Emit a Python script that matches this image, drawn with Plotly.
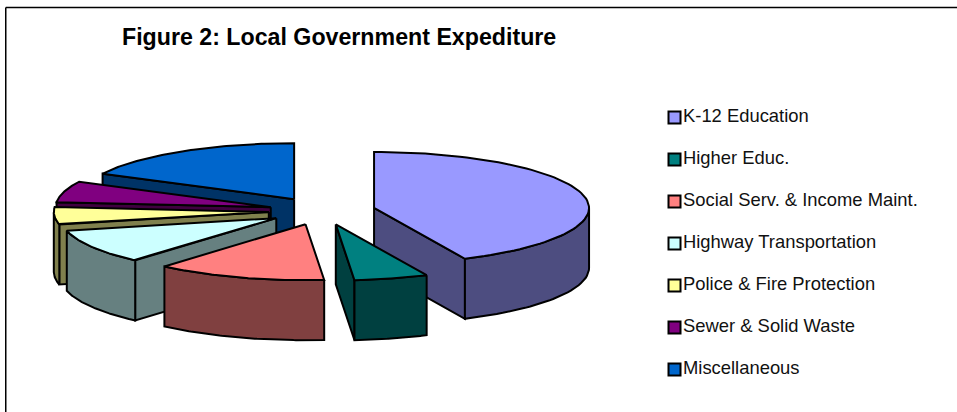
import numpy as np
import plotly.graph_objects as go

# Share of spending per category, in percent
categories = ["K-12 Education", "Higher Educ.", "Social Serv. & Income Maint.",
              "Highway Transportation", "Police & Fire Protection",
              "Sewer & Solid Waste", "Miscellaneous"]
shares = [43.06, 5.56, 12.78, 10.0, 5.0, 6.11, 17.5]
top_colors = ["#9999FF", "#008080", "#FF8080", "#CCFFFF", "#FFFF99", "#800080", "#0066CC"]
side_colors = ["#4D4D80", "#004040", "#804040", "#668080", "#80804D", "#400040", "#003366"]
title = "Figure 2: Local Government Expediture"

# Pie geometry in unit-radius coordinates; the axis scales apply the tilt
EXPLODE = 0.248
THICKNESS = 60 / 56
W, H = 957, 412
CX, CY, RX, RY = 322, 211, 215, 56

edges = 2 * np.pi * np.concatenate([[0], np.cumsum(shares)]) / sum(shares)
fig = go.Figure()


def face(x, y, color):
    fig.add_trace(go.Scatter(x=np.append(x, x[0]), y=np.append(y, y[0]), mode="lines",
                             fill="toself", fillcolor=color, hoverinfo="skip",
                             showlegend=False, line=dict(color="black", width=2)))


def slice_faces(i):
    a0, a1 = edges[i], edges[i + 1]
    mid = (a0 + a1) / 2
    ax, ay = EXPLODE * np.sin(mid), EXPLODE * np.cos(mid)
    t = np.linspace(a0, a1, 80)
    rim_x, rim_y = ax + np.sin(t), ay + np.cos(t)

    # Radial cut faces that turn toward the viewer
    for a, visible in ((a0, np.sin(a0) < -1e-6), (a1, np.sin(a1) > 1e-6)):
        if visible:
            ex, ey = ax + np.sin(a), ay + np.cos(a)
            face(np.array([ax, ex, ex, ax]),
                 np.array([ay, ey, ey - THICKNESS, ay - THICKNESS]), side_colors[i])

    # Outer wall along the front half of the rim
    front = np.cos(t) <= 0
    if front.any():
        fx, fy = rim_x[front], rim_y[front]
        face(np.concatenate([fx, fx[::-1]]),
             np.concatenate([fy, fy[::-1] - THICKNESS]), side_colors[i])

    # Top face
    face(np.concatenate([[ax], rim_x]), np.concatenate([[ay], rim_y]), top_colors[i])


# Back-to-front paint order
for i in (6, 0, 5, 4, 3, 2, 1):
    slice_faces(i)

# Key: one square and label per category
fig.add_trace(go.Scatter(x=[0] * len(categories), y=categories, mode="markers+text",
                         xaxis="x2", yaxis="y2", text=categories,
                         textposition="middle right", cliponaxis=False,
                         textfont=dict(family="Liberation Sans", size=18.4, color="#111111"),
                         marker=dict(symbol="square", size=12, color=top_colors,
                                     line=dict(color="black", width=2)),
                         hoverinfo="skip", showlegend=False))

# Frame: only the top and left edges fall inside the page
frame_x, frame_y = 5.75 / W, 1 - 7.5 / H
frame = dict(type="line", xref="paper", yref="paper", layer="below",
             line=dict(color="black", width=1.5))

fig.update_layout(
    width=W, height=H, autosize=False,
    margin=dict(l=0, r=0, t=0, b=0),
    paper_bgcolor="white", plot_bgcolor="rgba(0,0,0,0)",
    showlegend=False,
    title=dict(text="<b>" + title + "</b>", x=122 / W, xanchor="left", y=1 - 37 / H,
               yanchor="middle", font=dict(family="Liberation Sans", size=23.2, color="black")),
    xaxis=dict(range=[-CX / RX, (W - CX) / RX], visible=False),
    yaxis=dict(range=[(CY - H) / RY, CY / RY], visible=False),
    xaxis2=dict(domain=[674.5 / W, 1], range=[0, 1], visible=False, anchor="y2"),
    yaxis2=dict(type="category", categoryorder="array", categoryarray=categories,
                range=[(H - 117.5) / 42, -117.5 / 42], visible=False, anchor="x2"),
    shapes=[dict(frame, x0=frame_x, x1=1, y0=frame_y, y1=frame_y),
            dict(frame, x0=frame_x, x1=frame_x, y0=0, y1=frame_y)],
)

fig.write_html("out.html")
